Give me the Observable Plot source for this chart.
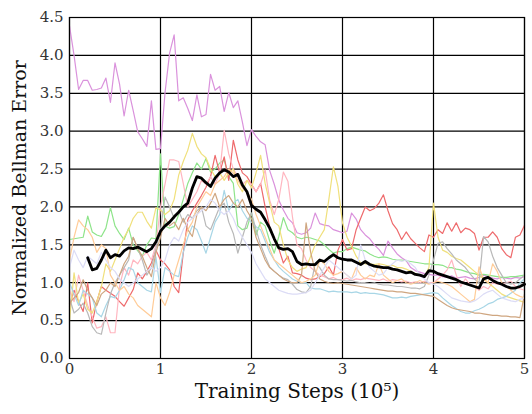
<!DOCTYPE html>
<html>
<head>
<meta charset="utf-8">
<script src="https://cdn.jsdelivr.net/npm/d3@7"></script>
<script src="https://cdn.jsdelivr.net/npm/@observablehq/plot@0.6"></script>
<style>
  html, body { margin: 0; padding: 0; background: #fff; }
  #chart svg { display: block; }
</style>
</head>
<body>
<div id="chart"></div>
<script>
// Training steps (x 10^5), sampled every 0.05
const STEP = 0.05;
const xTicks = [0, 1, 2, 3, 4, 5];
const yTicks = [0, 0.5, 1, 1.5, 2, 2.5, 3, 3.5, 4, 4.5];
const xLabel = "Training Steps (10\u2075)";
const yLabel = "Normalized Bellman Error";

// Individual runs (start at step 0)
const violet = [4.39,4.0,3.55,3.67,3.67,3.54,3.55,3.57,3.70,3.38,
  3.9,3.62,3.2,3.54,3.27,2.99,2.9,2.8,3.4,2.76,
  2.77,3.51,4.03,4.27,3.4,3.44,3.3,3.14,3.48,3.19,
  3.22,3.75,3.54,3.59,3.26,3.51,3.31,3.4,3.12,2.81,
  3.02,2.93,2.86,2.82,2.48,2.3,2.09,1.96,1.85,1.79,
  1.66,1.64,1.66,1.72,1.92,1.78,1.76,1.75,1.7,1.68,
  1.66,1.68,1.92,1.84,1.7,1.63,1.58,1.5,1.44,1.36,
  1.55,1.46,1.38,1.33,1.29,1.2,1.16,1.14,1.12,1.11,
  1.1,1.1,1.08,1.07,1.09,1.06,1.07,1.08,1.06,1.05,
  1.07,1.1,1.08,1.06,1.05,1.07,1.06,1.05,1.07,1.06,1.08];
const green = [1.57,1.58,1.59,1.6,1.88,1.67,1.63,1.61,1.72,1.99,
  1.75,1.65,1.57,1.72,1.5,1.42,1.35,1.5,1.59,1.58,
  2.7,1.75,1.72,1.74,1.9,2.1,2.31,2.45,2.58,2.5,
  2.64,2.46,2.5,2.58,2.62,2.4,2.31,1.75,1.7,1.72,
  1.92,1.63,1.8,1.75,1.55,1.39,1.61,1.86,1.7,1.66,
  1.6,1.58,1.6,1.59,1.57,1.55,1.5,1.44,1.39,1.41,
  1.41,1.45,1.47,1.45,1.43,1.42,1.38,1.35,1.33,1.34,
  1.33,1.31,1.3,1.3,1.29,1.28,1.27,1.26,1.25,1.25,
  1.24,1.24,1.23,1.2,1.2,1.18,1.17,1.15,1.13,1.12,
  1.1,1.11,1.1,1.09,1.08,1.07,1.07,1.08,1.08,1.09,1.1];
const red = [0.68,0.9,0.75,0.62,1.0,0.47,0.75,0.95,0.9,0.86,
  0.82,0.75,0.69,0.8,0.91,1.13,1.05,1.15,1.26,1.43,
  1.3,1.25,1.17,0.95,0.87,1.39,1.83,1.95,2.05,2.15,
  2.26,2.4,2.68,2.45,2.66,2.35,2.88,2.62,2.45,2.4,
  2.3,2.2,2.31,2.0,1.74,1.57,1.45,1.26,1.35,1.13,
  1.12,1.1,1.06,1.04,1.05,1.08,1.12,1.21,1.1,1.43,
  1.57,1.43,1.45,1.7,1.85,2.0,1.95,1.98,2.05,2.16,
  1.95,1.78,1.7,1.57,1.67,1.58,1.52,1.46,1.41,1.63,
  1.6,1.7,1.65,1.79,1.68,1.79,1.66,1.72,1.7,1.65,
  1.43,1.6,1.6,1.67,1.6,1.45,1.37,1.33,1.6,1.63,1.76];
const pink = [0.9,0.75,1.1,0.9,0.7,0.55,0.4,0.42,0.55,0.34,
  0.34,0.95,1.2,1.1,1.3,1.25,1.35,1.4,1.3,1.5,
  2.0,2.3,2.62,2.62,2.6,2.31,2.0,2.1,2.2,2.35,
  2.3,2.4,2.3,2.45,3.01,2.7,2.5,2.4,2.3,2.35,
  2.3,2.2,2.3,2.49,2.09,1.9,2.1,2.46,2.34,1.87,
  1.5,1.45,1.3,1.2,1.15,1.1,1.08,1.05,1.07,1.04,
  1.04,1.06,1.03,1.05,1.04,1.06,1.05,1.04,1.03,1.05,
  1.02,1.04,1.03,1.01,1.02,1.0,1.01,1.0,1.02,1.0,
  1.0,1.05,1.1,1.17,1.3,1.1,0.95,1.05,0.98,0.95,
  0.9,0.95,0.92,1.0,0.98,0.99,1.0,1.02,0.95,0.92,0.9];
const yellow = [0.5,1.13,0.73,0.85,0.65,0.6,0.75,0.95,1.25,1.15,
  1.3,1.45,1.6,1.7,1.85,1.93,1.93,1.81,1.72,1.99,
  1.96,1.9,1.95,2.1,2.42,2.6,2.75,2.97,2.8,2.7,
  2.65,2.5,2.4,2.45,2.35,2.45,2.5,2.3,2.2,2.35,
  2.25,2.45,2.68,2.31,2.05,1.8,1.75,1.5,1.3,1.2,
  1.15,1.18,1.2,1.35,1.5,1.6,1.7,2.1,2.53,2.27,
  1.79,1.6,1.48,1.35,1.26,1.25,1.25,1.24,1.25,1.24,
  1.22,1.23,1.2,1.2,1.18,1.15,1.12,1.1,1.08,1.2,
  2.05,1.6,1.43,1.4,1.35,1.32,1.3,1.25,1.2,1.15,
  1.1,1.05,1.0,0.95,0.9,0.85,0.82,0.8,0.78,0.76,0.74];
const lightBlue = [1.0,0.85,0.7,0.9,0.85,0.8,0.6,0.55,0.7,0.82,
  0.8,0.9,1.04,1.2,1.17,1.0,0.95,0.9,0.88,1.34,
  0.87,1.2,1.15,1.1,1.08,1.4,1.6,1.75,1.7,1.55,
  1.39,1.6,1.8,1.9,2.22,1.95,2.05,2.1,1.95,1.85,
  1.8,1.74,1.7,1.55,1.4,1.3,1.21,1.15,1.1,1.05,
  1.02,1.0,1.0,0.93,0.92,0.92,0.9,0.88,0.89,0.88,
  0.88,0.88,0.87,0.88,0.86,0.87,0.86,0.86,0.85,0.84,
  0.82,0.8,0.8,0.81,0.8,0.82,0.83,0.84,0.85,0.86,
  0.87,0.86,0.8,0.75,0.7,0.66,0.62,0.6,0.6,0.63,
  0.65,0.68,0.72,0.74,0.78,0.8,0.82,0.86,0.9,1.0,1.05];
const gray = [0.8,0.6,0.65,0.73,0.6,0.42,0.34,0.32,0.6,0.85,
  1.0,1.1,1.2,1.3,1.6,1.45,1.3,1.1,1.2,1.45,
  1.7,2.13,2.0,1.85,1.95,1.8,1.9,1.85,1.95,2.0,
  1.75,1.7,1.85,2.0,2.05,1.8,1.65,1.39,1.6,1.8,
  1.92,1.7,1.5,1.35,1.21,1.15,1.1,1.06,1.04,0.98,
  0.91,0.88,0.87,0.95,1.26,1.2,1.1,1.05,1.04,1.04,
  1.03,1.02,1.03,1.01,1.0,1.0,0.99,1.0,0.98,0.97,
  0.97,0.96,0.95,0.95,0.94,0.93,0.93,0.92,0.95,1.1,
  1.3,1.52,1.54,1.45,1.38,1.3,1.25,1.2,1.12,1.05,
  1.0,1.61,1.54,1.35,1.2,1.1,1.0,0.98,1.0,1.05,1.1];
const tan = [0.73,0.8,0.87,1.04,0.9,0.8,0.7,0.85,0.9,1.0,
  0.95,1.1,1.25,1.35,1.6,1.45,1.35,1.2,1.08,1.4,
  1.6,1.85,1.75,1.8,1.7,1.85,1.7,1.61,1.9,2.0,
  1.95,2.05,2.18,2.0,2.1,2.15,2.05,2.0,2.1,1.95,
  1.85,1.6,1.45,1.3,1.2,1.15,1.1,1.05,1.02,1.0,
  1.0,1.1,1.79,1.4,1.15,1.05,1.02,1.0,0.99,1.0,
  0.99,0.98,0.97,0.96,0.95,0.94,0.93,0.92,0.91,0.9,
  0.89,0.89,0.88,0.88,0.87,0.86,0.86,0.85,0.84,0.83,
  0.82,0.78,0.74,0.7,0.67,0.65,0.64,0.63,0.62,0.6,
  0.6,0.59,0.58,0.57,0.57,0.56,0.56,0.55,0.55,0.54,0.85];
const peach = [1.3,1.6,1.83,1.75,1.7,1.6,1.4,1.5,1.45,1.1,
  1.0,0.9,0.95,0.85,0.8,0.7,0.65,0.6,0.55,1.0,
  0.8,0.7,0.87,1.1,1.3,1.5,1.7,1.8,2.0,2.1,
  2.2,2.15,2.3,2.35,2.4,2.5,2.45,2.35,2.25,2.2,
  2.1,1.9,1.75,1.6,1.45,1.3,1.25,1.2,1.15,1.1,
  1.05,1.0,1.02,1.05,1.1,1.3,1.25,1.15,1.1,1.12,
  1.15,1.1,1.05,1.2,1.1,1.05,1.1,1.08,1.25,1.1,
  1.05,1.0,1.03,1.05,1.0,0.98,1.0,1.03,1.0,0.98,
  1.0,1.02,1.0,0.98,0.95,0.9,0.85,0.8,0.75,0.78,
  1.21,1.05,1.0,1.25,1.15,1.0,0.95,0.9,0.85,0.82,0.8];
const lavender = [1.2,1.43,1.3,1.2,1.35,1.3,1.25,1.4,1.3,1.2,
  1.15,1.05,1.0,0.95,1.0,1.05,1.1,1.15,1.2,1.15,
  1.2,1.3,1.5,1.6,1.55,1.7,1.8,1.85,1.9,1.95,
  2.0,2.1,2.05,1.95,1.9,1.95,1.85,1.7,1.6,1.5,
  1.4,1.25,1.15,1.05,1.0,0.95,0.9,0.88,0.86,0.85,
  0.85,0.86,0.87,0.9,1.0,1.1,1.2,1.3,1.25,1.2,
  1.15,1.1,1.05,1.1,1.5,1.3,1.2,1.15,1.1,1.12,
  1.2,1.25,1.3,1.28,1.3,1.25,1.2,1.1,1.05,1.0,
  0.98,0.95,0.9,0.85,0.8,0.78,0.76,0.75,0.74,0.76,
  0.8,0.85,0.88,0.9,0.85,0.8,0.78,0.76,0.75,0.78,0.8];

// Mean curve (starts at step 0.2)
const MEAN_START = 0.2;
const mean = [1.33,1.17,1.19,1.3,1.43,1.33,1.37,1.35,1.42,1.46,
  1.45,1.47,1.44,1.41,1.45,1.54,1.68,1.75,1.8,1.87,
  1.93,2.0,2.05,2.25,2.4,2.38,2.32,2.27,2.38,2.45,
  2.49,2.46,2.4,2.43,2.29,2.2,2.02,1.97,1.93,1.83,
  1.72,1.58,1.46,1.44,1.45,1.41,1.28,1.24,1.25,1.24,
  1.24,1.3,1.28,1.33,1.37,1.33,1.31,1.3,1.3,1.27,
  1.24,1.28,1.24,1.22,1.21,1.2,1.2,1.18,1.17,1.15,
  1.13,1.14,1.11,1.1,1.08,1.16,1.15,1.12,1.1,1.08,
  1.06,1.04,1.01,0.99,0.97,0.95,0.93,1.05,1.07,1.03,
  1.0,0.98,0.95,0.93,0.93,0.95,0.98];

const runNames = ["violet","green","red","pink","yellow","lightBlue","gray","tan","peach","lavender"];
const runValues = [violet, green, red, pink, yellow, lightBlue, gray, tan, peach, lavender];
const runColors = ["#da92dc","#8ee48a","#ee6a6c","#ffb6c0","#f0e07c","#a8d6e6","#b8b8b8","#cfa680","#ffcc98","#dcdcf6"];

const runs = runNames.flatMap((name, k) =>
  runValues[k].map((v, i) => ({run: name, x: +(i * STEP).toFixed(2), y: v})));
const meanData = mean.map((v, i) => ({x: +(MEAN_START + i * STEP).toFixed(2), y: v}));

const serif = "'DejaVu Serif', 'Liberation Serif', serif";

const chart = Plot.plot({
  width: 532,
  height: 414,
  marginLeft: 69,
  marginRight: 8,
  marginTop: 17,
  marginBottom: 56,
  style: {fontFamily: serif, background: "#fff", color: "#222"},
  x: {domain: [0, 5], ticks: xTicks, label: null},
  y: {domain: [0, 4.5], ticks: yTicks, label: null, tickFormat: d3.format(".1f")},
  color: {domain: runNames, range: runColors},
  marks: [
    Plot.gridX(xTicks, {stroke: "#000", strokeOpacity: 1, strokeWidth: 1.2}),
    Plot.gridY(yTicks, {stroke: "#000", strokeOpacity: 1, strokeWidth: 1.2}),
    Plot.line(runs, {x: "x", y: "y", z: "run", stroke: "run", strokeWidth: 1.2}),
    Plot.line(meanData, {x: "x", y: "y", stroke: "#000", strokeWidth: 2.8, strokeLinejoin: "round"}),
    Plot.frame({stroke: "#000", strokeWidth: 1.2}),
    Plot.axisX(xTicks, {tickSize: 0, tickPadding: 5, fontSize: 15, label: null, fill: "#333"}),
    Plot.axisY(yTicks, {tickSize: 0, tickPadding: 6, fontSize: 15, label: null, tickFormat: d3.format(".1f"), fill: "#333"}),
    Plot.text([xLabel], {frameAnchor: "bottom", textAnchor: "middle", dy: 39, fontSize: 20, fill: "#111", text: d => d}),
    Plot.text([yLabel], {frameAnchor: "left", textAnchor: "middle", dx: -50, rotate: -90, fontSize: 19, fill: "#111", text: d => d})
  ]
});
document.getElementById("chart").appendChild(chart);
</script>
</body>
</html>
